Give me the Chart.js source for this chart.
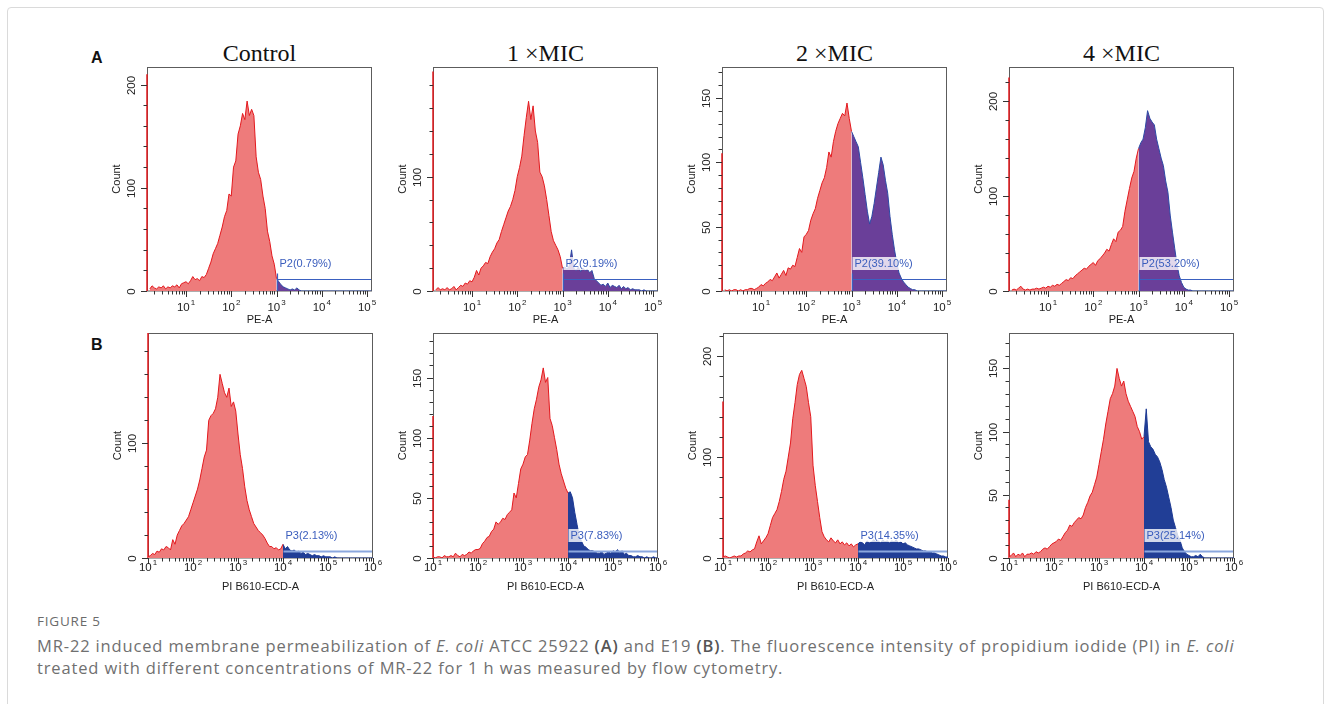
<!DOCTYPE html>
<html>
<head>
<meta charset="utf-8">
<script src="https://cdn.jsdelivr.net/npm/chart.js@4.4.1/dist/chart.umd.min.js"></script>
<style>
  html, body { margin: 0; padding: 0; background: #fff; }
  body { width: 1330px; height: 704px; position: relative; overflow: hidden; font-family: "Liberation Sans", Arial, sans-serif; }
  .frame { position: absolute; left: 7px; top: 7px; width: 1315px; height: 740px; border: 1px solid #dadada; border-radius: 4px; }
  canvas { position: absolute; }
  .title { position: absolute; top: 40px; font-family: "Liberation Serif", "Times New Roman", serif; font-size: 24px; line-height: 26px; color: #111; transform: translateX(-50%); white-space: nowrap; }
  .tag { position: absolute; font-weight: bold; font-size: 16px; line-height: 18px; color: #111; }
  .figlabel { position: absolute; left: 37px; top: 612px; font-family: "Open Sans", sans-serif; font-size: 13.5px; letter-spacing: 0.8px; color: #6b6b6b; }
  .caption { position: absolute; left: 37px; top: 635px; font-family: "Open Sans", sans-serif; font-size: 16.5px; letter-spacing: 0.85px; line-height: 22px; color: #707070; white-space: nowrap; }
  .caption b { color: #555; font-weight: 600; }
</style>
</head>
<body>
<div class="frame"></div>
<div class="tag" style="left:91px; top:49px;">A</div>
<div class="tag" style="left:91px; top:336px;">B</div>
<div id="titles"></div>
<div id="panels"></div>
<div class="figlabel">FIGURE 5</div>
<div class="caption">MR-22 induced membrane permeabilization of <i>E. coli</i> ATCC 25922 <b>(A)</b> and E19 <b>(B)</b>. The fluorescence intensity of propidium iodide (PI) in <i>E. coli</i><br>treated with different concentrations of MR-22 for 1 h was measured by flow cytometry.</div>
<script>
// treatment groups (column titles)
const panelTitles = ['Control', '1 \u00d7MIC', '2 \u00d7MIC', '4 \u00d7MIC'];

// histogram bins, log10 of channel value
const peBins = [0.20, 0.25, 0.30, 0.35, 0.40, 0.45, 0.50, 0.55, 0.60, 0.65,
  0.70, 0.75, 0.80, 0.85, 0.90, 0.95, 1.00, 1.05, 1.10, 1.15,
  1.20, 1.25, 1.30, 1.35, 1.40, 1.45, 1.50, 1.55, 1.60, 1.65,
  1.70, 1.75, 1.80, 1.85, 1.90, 1.95, 2.00, 2.05, 2.10, 2.15,
  2.20, 2.25, 2.30, 2.35, 2.40, 2.45, 2.50, 2.55, 2.60, 2.65,
  2.70, 2.75, 2.80, 2.85, 2.90, 2.95, 3.00, 3.05, 3.10, 3.15,
  3.20, 3.25, 3.30, 3.35, 3.40, 3.45, 3.50, 3.55, 3.60, 3.65,
  3.70, 3.75, 3.80, 3.85, 3.90, 3.95, 4.00, 4.05, 4.10, 4.15,
  4.20, 4.25, 4.30, 4.35, 4.40, 4.45, 4.50, 4.55, 4.60, 4.65,
  4.70, 4.75, 4.80, 4.85, 4.90, 4.95, 5.00, 5.05, 5.10];
const piBins = [1.00, 1.05, 1.10, 1.15, 1.20, 1.25, 1.30, 1.35, 1.40, 1.45,
  1.50, 1.55, 1.60, 1.65, 1.70, 1.75, 1.80, 1.85, 1.90, 1.95,
  2.00, 2.05, 2.10, 2.15, 2.20, 2.25, 2.30, 2.35, 2.40, 2.45,
  2.50, 2.55, 2.60, 2.65, 2.70, 2.75, 2.80, 2.85, 2.90, 2.95,
  3.00, 3.05, 3.10, 3.15, 3.20, 3.25, 3.30, 3.35, 3.40, 3.45,
  3.50, 3.55, 3.60, 3.65, 3.70, 3.75, 3.80, 3.85, 3.90, 3.95,
  4.00, 4.05, 4.10, 4.15, 4.20, 4.25, 4.30, 4.35, 4.40, 4.45,
  4.50, 4.55, 4.60, 4.65, 4.70, 4.75, 4.80, 4.85, 4.90, 4.95,
  5.00, 5.05, 5.10, 5.15, 5.20, 5.25, 5.30, 5.35, 5.40, 5.45,
  5.50, 5.55, 5.60, 5.65, 5.70, 5.75, 5.80, 5.85, 5.90, 5.95,
  6.00];

// x tick labels (decade exponents)
const peDecades = [1, 2, 3, 4, 5];
const piDecades = [1, 2, 3, 4, 5, 6];

// A: E. coli ATCC 25922, PE-A
const countsAControl = [2, 5, 3, 2, 4, 3, 5, 2, 4, 3,
  5, 4, 6, 3, 7, 8, 9, 7, 10, 14,
  11, 12, 10, 14, 13, 16, 22, 28, 36, 41,
  46, 54, 62, 72, 78, 94, 92, 120, 126, 152,
  160, 172, 166, 184, 170, 176, 170, 130, 115, 108,
  92, 80, 58, 48, 34, 26, 12, 9, 6, 4,
  3, 2, 1, 2, 1, 3, 1, 0, 0, 0,
  0, 0, 0, 0, 0, 0, 0, 0, 0, 0,
  0, 0, 0, 0, 0, 0, 0, 0, 0, 0,
  0, 0, 0, 0, 0, 0, 0, 0, 0];
const countsA1x = [1, 3, 1, 2, 1, 3, 1, 2, 4, 1,
  3, 5, 4, 7, 6, 9, 8, 12, 18, 14,
  20, 22, 25, 24, 30, 34, 37, 42, 45, 52,
  58, 64, 70, 74, 80, 88, 100, 108, 118, 136,
  152, 166, 150, 162, 140, 130, 104, 100, 92, 80,
  66, 52, 44, 40, 36, 30, 20, 21, 19, 22,
  36, 20, 18, 21, 17, 20, 18, 19, 16, 18,
  11, 9, 7, 5, 6, 4, 7, 3, 5, 4,
  3, 5, 2, 4, 2, 3, 1, 2, 1, 1,
  1, 0, 1, 0, 0, 0, 0, 0, 0];
const countsA2x = [1, 0, 1, 0, 1, 1, 0, 1, 0, 1,
  1, 2, 2, 1, 2, 3, 5, 4, 6, 7,
  9, 8, 11, 14, 10, 13, 16, 12, 18, 17,
  20, 19, 26, 33, 30, 42, 44, 47, 55, 60,
  64, 72, 78, 84, 88, 96, 108, 104, 116, 124,
  130, 134, 138, 136, 146, 134, 124, 120, 116, 112,
  100, 88, 75, 62, 52, 58, 68, 80, 92, 104,
  98, 86, 76, 58, 44, 32, 22, 14, 10, 7,
  5, 3, 2, 1, 1, 0, 0, 0, 0, 0,
  0, 0, 0, 0, 0, 0, 0, 0, 0];
const countsA4x = [1, 2, 1, 3, 5, 2, 1, 2, 1, 2,
  2, 3, 2, 3, 4, 3, 5, 4, 6, 5,
  7, 6, 8, 10, 12, 11, 14, 13, 16, 18,
  20, 22, 24, 23, 26, 28, 30, 27, 32, 34,
  37, 40, 44, 42, 49, 55, 52, 62, 64, 68,
  84, 96, 108, 119, 126, 140, 150, 156, 160, 172,
  190, 182, 178, 175, 160, 150, 140, 132, 116, 104,
  80, 62, 45, 28, 16, 9, 4, 2, 1, 1,
  0, 0, 0, 0, 0, 0, 0, 0, 0, 0,
  0, 0, 0, 0, 0, 0, 0, 0, 0];

// B: E19, PI B610-ECD-A
const countsBControl = [1, 2, 4, 3, 6, 5, 8, 7, 10, 9,
  7, 16, 12, 20, 24, 28, 30, 33, 36, 42,
  48, 54, 60, 68, 78, 88, 94, 120, 124, 126,
  130, 140, 160, 152, 144, 140, 148, 132, 136, 128,
  108, 90, 78, 62, 50, 42, 36, 30, 27, 24,
  22, 20, 17, 13, 10, 10, 8, 9, 7, 8,
  12, 8, 10, 7, 6, 7, 5, 6, 4, 5,
  3, 4, 3, 2, 3, 2, 2, 1, 2, 1,
  1, 1, 0, 1, 0, 0, 0, 0, 0, 0,
  0, 0, 0, 0, 0, 0, 0, 0, 0, 0,
  0];
const countsB1x = [1, 0, 1, 1, 0, 2, 1, 1, 2, 1,
  4, 2, 1, 3, 2, 3, 5, 4, 6, 7,
  7, 8, 12, 14, 17, 18, 22, 24, 30, 28,
  30, 33, 32, 36, 38, 40, 54, 50, 62, 74,
  78, 84, 86, 98, 112, 124, 132, 142, 148, 158,
  146, 150, 116, 110, 100, 90, 78, 70, 64, 58,
  54, 55, 50, 38, 28, 18, 14, 10, 9, 7,
  6, 6, 5, 4, 4, 5, 3, 4, 5, 4,
  6, 5, 7, 4, 6, 3, 4, 2, 2, 1,
  1, 2, 1, 1, 0, 1, 0, 0, 1, 0,
  0];
const countsB2x = [1, 2, 1, 0, 1, 2, 1, 2, 2, 4,
  5, 7, 6, 8, 9, 16, 22, 14, 17, 20,
  24, 32, 40, 44, 48, 56, 66, 78, 86, 100,
  114, 138, 154, 172, 182, 186, 178, 170, 154, 140,
  92, 72, 56, 40, 26, 21, 18, 16, 20, 17,
  15, 18, 14, 16, 13, 15, 12, 14, 11, 13,
  14, 16, 15, 13, 17, 15, 16, 18, 16, 17,
  15, 18, 16, 17, 15, 17, 16, 18, 15, 16,
  14, 15, 13, 12, 11, 10, 9, 9, 8, 7,
  7, 6, 6, 5, 5, 4, 3, 2, 2, 1,
  1];
const countsB4x = [1, 2, 4, 1, 3, 2, 4, 1, 3, 3,
  4, 3, 5, 4, 5, 7, 8, 7, 9, 11,
  12, 13, 15, 14, 17, 20, 22, 26, 25, 28,
  30, 32, 31, 34, 40, 44, 49, 52, 58, 64,
  74, 84, 94, 106, 116, 126, 130, 136, 150, 142,
  136, 140, 130, 124, 120, 116, 112, 104, 100, 94,
  96, 118, 92, 88, 86, 82, 80, 76, 70, 62,
  56, 48, 40, 30, 24, 18, 14, 8, 5, 3,
  2, 1, 1, 2, 1, 3, 1, 0, 0, 0,
  0, 0, 0, 0, 0, 0, 0, 0, 0, 0,
  0];

// events piled on the lower axis limit
const edgeCountsA = [210, 192, 107, 225];
const edgeCountsB = [196, 118, 155, 46];

// gate marker levels and labels
const gateLevelsA = [11.6, 10.5, 9.3, 12.6];
const gateLevelsB = [5.7, 5.5, 6.5, 5.2];
const gateLabelsA = ['P2(0.79%)', 'P2(9.19%)', 'P2(39.10%)', 'P2(53.20%)'];
const gateLabelsB = ['P3(2.13%)', 'P3(7.83%)', 'P3(14.35%)', 'P3(25.14%)'];

// y axis ranges: max, major step, minor step
const yAxesA = [[217, 100, 20], [196, 100, 20], [174, 50, 10], [236, 100, 20]];
const yAxesB = [[196, 100, 20], [187, 50, 10], [223, 100, 20], [178, 50, 10]];

const RED_LINE = '#e3181d';
const RED_FILL = '#ee7b7b';

const rows = [
  {
    bins: peBins, decades: peDecades, expMin: 0.138, expMax: 5.11, gateAt: 3.0,
    counts: [countsAControl, countsA1x, countsA2x, countsA4x],
    edges: edgeCountsA, levels: gateLevelsA, labels: gateLabelsA, yAxes: yAxesA,
    xTitle: 'PE-A', top: 67, height: 224, lefts: [147, 433, 722, 1009],
    fill: '#6a3f99', line: '#2c4aa5', gateColor: '#3a60c0', gateWidth: 1.2,
    tickOffset: 16, marker: true
  },
  {
    bins: piBins, decades: piDecades, expMin: 1, expMax: 6, gateAt: 4.0,
    counts: [countsBControl, countsB1x, countsB2x, countsB4x],
    edges: edgeCountsB, levels: gateLevelsB, labels: gateLabelsB, yAxes: yAxesB,
    xTitle: 'PI B610-ECD-A', top: 333, height: 225, lefts: [148, 433, 723, 1009],
    fill: '#213e96', line: '#1d3993', gateColor: '#8ba7de', gateWidth: 2,
    tickOffset: 9, marker: false
  }
];

const PAD = { left: 50, top: 6, right: 14, bottom: 44 };
const BOX_W = 225;

// axes, ticks, gate marker drawn against the chart scales
const fcsAxes = {
  id: 'fcsAxes',
  beforeDatasetsDraw(chart) {
    const { ctx, chartArea: a } = chart;
    ctx.save();
    ctx.strokeStyle = '#5c5c5c';
    ctx.lineWidth = 1;
    ctx.strokeRect(a.left + 0.5, a.top + 0.5, a.right - a.left - 1, a.bottom - a.top - 0.5);
    ctx.restore();
  },
  afterDatasetsDraw(chart, args, o) {
    const { ctx, chartArea: a, scales: { x, y } } = chart;
    ctx.save();
    ctx.strokeStyle = '#333';
    ctx.fillStyle = '#222';
    ctx.lineWidth = 1;

    // x ticks
    const lo = x.min, hi = x.max;
    for (let e = Math.floor(Math.log10(lo)); e <= Math.ceil(Math.log10(hi)); e++) {
      for (let k = 1; k <= 9; k++) {
        const v = k * Math.pow(10, e);
        if (v < lo * 0.999 || v > hi * 1.001) continue;
        const px = Math.round(x.getPixelForValue(v)) + 0.5;
        ctx.beginPath();
        ctx.moveTo(px, a.bottom);
        ctx.lineTo(px, a.bottom + (k === 1 ? 6 : 3.5));
        ctx.stroke();
      }
    }
    // x labels 10^n
    o.decades.forEach(d => {
      const px = x.getPixelForValue(Math.pow(10, d));
      ctx.font = '11.5px "Liberation Sans", Arial, sans-serif';
      const w1 = ctx.measureText('10').width;
      ctx.font = '8px "Liberation Sans", Arial, sans-serif';
      const w2 = ctx.measureText(String(d)).width;
      const sx = px - (w1 + w2 + 1) / 2;
      const cy = a.bottom + o.tickOffset;
      ctx.textAlign = 'left';
      ctx.textBaseline = 'middle';
      ctx.font = '11.5px "Liberation Sans", Arial, sans-serif';
      ctx.fillText('10', sx, cy + 1);
      ctx.font = '8px "Liberation Sans", Arial, sans-serif';
      ctx.fillText(String(d), sx + w1 + 1, cy - 4);
    });
    // x title
    ctx.font = '11px "Liberation Sans", Arial, sans-serif';
    ctx.textAlign = 'center';
    ctx.textBaseline = 'middle';
    ctx.fillText(o.xTitle, (a.left + a.right) / 2, a.bottom + 29);

    // y ticks
    const [yMax, major, minor] = o.yAxis;
    for (let v = 0; v <= yMax + 0.01; v += minor) {
      const py = Math.round(y.getPixelForValue(v)) + 0.5;
      ctx.beginPath();
      ctx.moveTo(a.left, py);
      ctx.lineTo(a.left - (v % major === 0 ? 6 : 3.5), py);
      ctx.stroke();
      if (v % major === 0) {
        ctx.save();
        ctx.translate(a.left - 15, py);
        ctx.rotate(-Math.PI / 2);
        ctx.font = '11.5px "Liberation Sans", Arial, sans-serif';
        ctx.fillText(String(v), 0, 0);
        ctx.restore();
      }
    }
    // y title
    ctx.save();
    ctx.translate(a.left - 30, (a.top + a.bottom) / 2);
    ctx.rotate(-Math.PI / 2);
    ctx.font = '11px "Liberation Sans", Arial, sans-serif';
    ctx.fillText('Count', 0, 0);
    ctx.restore();

    // gate marker
    const gx = Math.round(x.getPixelForValue(Math.pow(10, o.gateAt))) + 0.5;
    const gy = Math.round(y.getPixelForValue(o.level)) + 0.5;
    ctx.strokeStyle = o.gateColor;
    ctx.lineWidth = o.gateWidth;
    ctx.beginPath();
    ctx.moveTo(gx, gy);
    ctx.lineTo(a.right - 1, gy);
    if (o.marker) {
      ctx.moveTo(gx, a.bottom);
      ctx.lineTo(gx, gy - 6);
    }
    ctx.stroke();
    ctx.font = '11px "Liberation Sans", Arial, sans-serif';
    ctx.textAlign = 'left';
    const tw = ctx.measureText(o.label).width;
    const ly = gy - 16;
    ctx.fillStyle = 'rgba(255,255,255,0.8)';
    ctx.fillRect(gx, ly - 6.5, tw + 4, 13);
    ctx.fillStyle = '#3a5dbd';
    ctx.fillText(o.label, gx + 2, ly);
    ctx.restore();
  }
};

const panelsEl = document.getElementById('panels');
const titlesEl = document.getElementById('titles');

rows[0].lefts.forEach((l, i) => {
  const t = document.createElement('div');
  t.className = 'title';
  t.style.left = (l + BOX_W / 2) + 'px';
  t.textContent = panelTitles[i];
  titlesEl.appendChild(t);
});

rows.forEach(row => {
  row.lefts.forEach((left, i) => {
    const canvas = document.createElement('canvas');
    canvas.width = BOX_W + PAD.left + PAD.right;
    canvas.height = row.height + PAD.top + PAD.bottom;
    canvas.style.left = (left - PAD.left) + 'px';
    canvas.style.top = (row.top - PAD.top) + 'px';
    panelsEl.appendChild(canvas);

    const counts = row.counts[i];
    const under = [], over = [];
    row.bins.forEach((e, j) => {
      const pt = { x: Math.pow(10, e), y: counts[j] };
      if (e <= row.gateAt + 1e-9) under.push(pt);
      if (e >= row.gateAt - 1e-9) over.push(pt);
    });
    const xMin = Math.pow(10, row.expMin);
    const yAxis = row.yAxes[i];

    new Chart(canvas, {
      type: 'line',
      data: {
        datasets: [
          { data: under, borderColor: RED_LINE, backgroundColor: RED_FILL, fill: 'origin', borderWidth: 1, pointRadius: 0, tension: 0 },
          { data: over, borderColor: row.line, backgroundColor: row.fill, fill: 'origin', borderWidth: 1, pointRadius: 0, tension: 0 },
          { data: [{ x: xMin, y: 0 }, { x: xMin, y: row.edges[i] }], borderColor: RED_LINE, borderWidth: 1.5, pointRadius: 0, fill: false, clip: false }
        ]
      },
      options: {
        responsive: false,
        animation: false,
        devicePixelRatio: 1,
        layout: { padding: PAD },
        scales: {
          x: { type: 'logarithmic', display: false, min: xMin, max: Math.pow(10, row.expMax) },
          y: { type: 'linear', display: false, min: 0, max: yAxis[0] }
        },
        plugins: {
          legend: { display: false },
          tooltip: { enabled: false },
          fcsAxes: {
            decades: row.decades, xTitle: row.xTitle, tickOffset: row.tickOffset,
            yAxis: yAxis, gateAt: row.gateAt, level: row.levels[i], label: row.labels[i],
            gateColor: row.gateColor, gateWidth: row.gateWidth, marker: row.marker
          }
        }
      },
      plugins: [fcsAxes]
    });
  });
});
</script>
</body>
</html>
